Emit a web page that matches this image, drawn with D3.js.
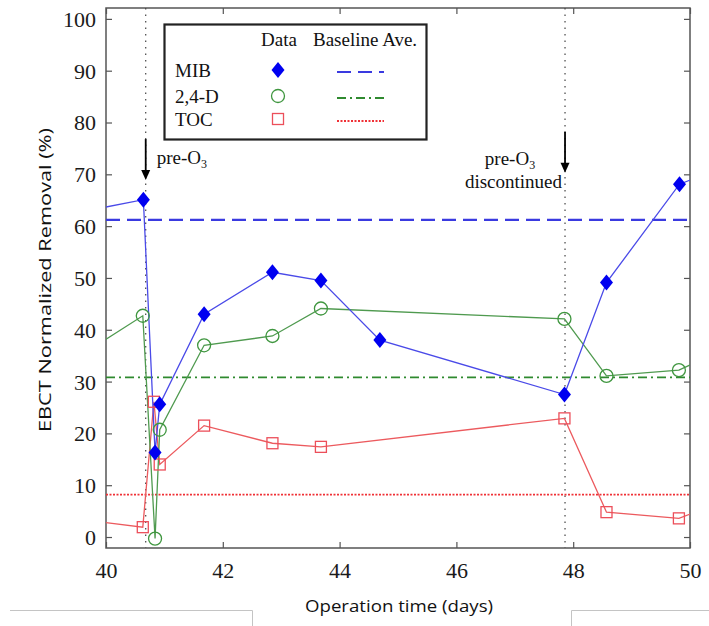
<!DOCTYPE html>
<html>
<head>
<meta charset="utf-8">
<script src="https://cdn.jsdelivr.net/npm/d3@7"></script>
<style>
  html, body { margin: 0; padding: 0; background: #fff; }
  svg { display: block; }
</style>
</head>
<body>
<svg id="chart" width="709" height="626"></svg>
<script>
// ---------- data ----------
const xTicks = [40, 42, 44, 46, 48, 50];
const yTicks = [0, 10, 20, 30, 40, 50, 60, 70, 80, 90, 100];

const mibTime   = [39.5, 40.64, 40.84, 40.92, 41.68, 42.85, 43.68, 44.69, 47.85, 48.57, 49.82, 50.3];
const mibValue  = [62.6, 65.1, 16.3, 25.6, 43.0, 51.1, 49.5, 38.0, 27.5, 49.1, 68.1, 70.2];

const d24Time   = [39.5, 40.63, 40.84, 40.92, 41.68, 42.85, 43.68, 47.85, 48.57, 49.81, 50.3];
const d24Value  = [34.6, 42.7, -0.3, 20.7, 37.0, 38.8, 44.1, 42.1, 31.1, 32.2, 34.8];

const tocTime   = [39.5, 40.63, 40.82, 40.92, 41.68, 42.85, 43.68, 47.85, 48.57, 49.81, 50.3];
const tocValue  = [3.5, 1.9, 26.1, 14.0, 21.5, 18.1, 17.4, 22.9, 4.8, 3.6, 5.7];

const seriesNames = ["MIB", "2,4-D", "TOC"];
const baselineAve = [61.2, 30.8, 8.2];

const eventTimes  = [40.68, 47.86];
const eventLabels = [["pre-O", "3"], ["pre-O", "3", "discontinued"]];

// ---------- layout ----------
const svg = d3.select("#chart");
const L = 106, R = 690, T = 8, B = 548;
const x = d3.scaleLinear().domain([40, 50]).range([L, R]);
const y = d3.scaleLinear().domain([-2.12, 102.1]).range([B, T]);

const colors = {
  mibLine: "#4a4ae8", mibFill: "#0000f0", mibBase: "#3a3ae0",
  d24Line: "#4f9a4f", d24Mark: "#3f963f", d24Base: "#2f8a2f",
  tocLine: "#ec5a5e", tocMark: "#ec4f5a", tocBase: "#f03036"
};

svg.append("defs").append("clipPath").attr("id", "plotclip")
  .append("rect").attr("x", L).attr("y", T).attr("width", R - L).attr("height", B - T);

// stray screenshot borders at bottom
const deco = svg.append("g").attr("stroke", "#c4c4c4").attr("stroke-width", 1).attr("fill", "none");
deco.append("path").attr("d", "M10,610.5 H252.5 V626");
deco.append("path").attr("d", "M709,610.5 H571.5 V626");

// ---------- axes frame ----------
const axisColor = "#555";
const frame = svg.append("g");
frame.append("rect").attr("x", L).attr("y", T).attr("width", R - L).attr("height", B - T)
  .attr("fill", "none").attr("stroke", axisColor).attr("stroke-width", 1.5);

const tickLen = 6;
const xAxisB = d3.axisBottom(x).tickValues(xTicks).tickSizeInner(-tickLen).tickSizeOuter(0).tickPadding(14);
const gxb = svg.append("g").attr("transform", `translate(0,${B})`).call(xAxisB);
const xAxisT = d3.axisTop(x).tickValues(xTicks).tickSizeInner(-tickLen).tickSizeOuter(0).tickFormat("");
const gxt = svg.append("g").attr("transform", `translate(0,${T})`).call(xAxisT);
const yAxisL = d3.axisLeft(y).tickValues(yTicks).tickSizeInner(-tickLen).tickSizeOuter(0).tickPadding(10);
const gyl = svg.append("g").attr("transform", `translate(${L},0)`).call(yAxisL);
const yAxisR = d3.axisRight(y).tickValues(yTicks).tickSizeInner(-tickLen).tickSizeOuter(0).tickFormat("");
const gyr = svg.append("g").attr("transform", `translate(${R},0)`).call(yAxisR);

[gxb, gxt, gyl, gyr].forEach(g => {
  g.select(".domain").remove();
  g.selectAll(".tick line").attr("stroke", axisColor).attr("stroke-width", 1.2);
  g.selectAll(".tick text").attr("fill", "#1a1a1a")
    .style("font-family", "'Liberation Serif', 'Times New Roman', serif")
    .style("font-size", "22px");
});
gyl.selectAll(".tick text").attr("dy", "0.34em");
gxb.selectAll(".tick text").attr("dy", "0.72em");

// axis titles
svg.append("text").attr("x", 399).attr("y", 612).attr("text-anchor", "middle")
  .style("font-family", "'Open Sans', 'Noto Sans', sans-serif").style("font-size", "16px")
  .attr("fill", "#111").attr("textLength", 188).attr("lengthAdjust", "spacingAndGlyphs")
  .text("Operation time (days)");
svg.append("text").attr("transform", "translate(51,280) rotate(-90)").attr("text-anchor", "middle")
  .style("font-family", "'Open Sans', 'Noto Sans', sans-serif").style("font-size", "16px")
  .attr("fill", "#111").attr("textLength", 304).attr("lengthAdjust", "spacingAndGlyphs")
  .text("EBCT Normalized Removal (%)");

// ---------- event lines ----------
const plot = svg.append("g").attr("clip-path", "url(#plotclip)");
plot.selectAll(".event").data(eventTimes).enter().append("line")
  .attr("x1", d => x(d)).attr("x2", d => x(d)).attr("y1", T).attr("y2", B)
  .attr("stroke", "#444").attr("stroke-width", 1.2).attr("stroke-dasharray", "1.5,5");

// ---------- baselines ----------
const baseStyles = [
  { c: colors.mibBase, dash: "14,7", w: 2.2 },
  { c: colors.d24Base, dash: "9,4,2,4", w: 1.8 },
  { c: colors.tocBase, dash: "2,1.5", w: 1.8 }
];
plot.selectAll(".base").data(baselineAve).enter().append("line")
  .attr("x1", L).attr("x2", R).attr("y1", d => y(d)).attr("y2", d => y(d))
  .attr("stroke", (d, i) => baseStyles[i].c)
  .attr("stroke-width", (d, i) => baseStyles[i].w)
  .attr("stroke-dasharray", (d, i) => baseStyles[i].dash);

// ---------- series ----------
const line = d3.line().x(d => x(d[0])).y(d => y(d[1]));
const mib = d3.zip(mibTime, mibValue);
const d24 = d3.zip(d24Time, d24Value);
const toc = d3.zip(tocTime, tocValue);

plot.append("path").datum(toc).attr("d", line).attr("fill", "none")
  .attr("stroke", colors.tocLine).attr("stroke-width", 1.3);
plot.append("path").datum(d24).attr("d", line).attr("fill", "none")
  .attr("stroke", colors.d24Line).attr("stroke-width", 1.3);
plot.append("path").datum(mib).attr("d", line).attr("fill", "none")
  .attr("stroke", colors.mibLine).attr("stroke-width", 1.3);

const diamondPath = "M0,-8 L6.5,0 L0,8 L-6.5,0 Z";
plot.selectAll(".toc").data(toc).enter().append("rect")
  .attr("x", d => x(d[0]) - 5.5).attr("y", d => y(d[1]) - 5.5)
  .attr("width", 11).attr("height", 11)
  .attr("fill", "none").attr("stroke", colors.tocMark).attr("stroke-width", 1.3);
plot.selectAll(".d24").data(d24).enter().append("circle")
  .attr("cx", d => x(d[0])).attr("cy", d => y(d[1])).attr("r", 6.5)
  .attr("fill", "none").attr("stroke", colors.d24Mark).attr("stroke-width", 1.3);
plot.selectAll(".mib").data(mib).enter().append("path")
  .attr("d", diamondPath)
  .attr("transform", d => `translate(${x(d[0])},${y(d[1])})`)
  .attr("fill", colors.mibFill);

// ---------- arrows & annotations ----------
const serif = "'Liberation Serif', 'Times New Roman', serif";
const arrowTop = [76.8, 78.2], arrowTip = [68.9, 70.3];
eventTimes.forEach((t, i) => {
  const ax = x(t);
  svg.append("line").attr("x1", ax).attr("x2", ax)
    .attr("y1", y(arrowTop[i])).attr("y2", y(arrowTip[i]) - 8)
    .attr("stroke", "#000").attr("stroke-width", 1.8);
  svg.append("path")
    .attr("d", `M${ax - 4.5},${y(arrowTip[i]) - 10} L${ax + 4.5},${y(arrowTip[i]) - 10} L${ax},${y(arrowTip[i])} Z`)
    .attr("fill", "#000");
});
function preO3(g, px, py, anchor) {
  const t = g.append("text").attr("x", px).attr("y", py).attr("text-anchor", anchor)
    .style("font-family", serif).style("font-size", "19px").attr("fill", "#111");
  t.append("tspan").text("pre-O");
  t.append("tspan").attr("dy", 4).style("font-size", "12px").text("3");
}
preO3(svg, x(eventTimes[0]) + 11, 164, "start");
preO3(svg, x(eventTimes[1]) - 55, 165, "middle");
svg.append("text").attr("x", x(eventTimes[1]) - 3).attr("y", 188).attr("text-anchor", "end")
  .style("font-family", serif).style("font-size", "19px").attr("fill", "#111")
  .text(eventLabels[1][2]);

// ---------- legend ----------
const lg = svg.append("g");
lg.append("rect").attr("x", 164.5).attr("y", 24.5).attr("width", 262).attr("height", 115)
  .attr("fill", "#fff").attr("stroke", "#222").attr("stroke-width", 2.2);
const lt = (tx, ty, s, anchor) => lg.append("text").attr("x", tx).attr("y", ty)
  .attr("text-anchor", anchor || "start")
  .style("font-family", serif).style("font-size", "19px").attr("fill", "#111").text(s);
lt(279, 46, "Data", "middle");
lt(313, 46, "Baseline Ave.");
const rowY = [70, 96, 119];
seriesNames.forEach((n, i) => lt(175, rowY[i] + 7, n));
lg.append("path").attr("d", diamondPath).attr("transform", `translate(278,${rowY[0]})`).attr("fill", colors.mibFill);
lg.append("circle").attr("cx", 278).attr("cy", rowY[1]).attr("r", 6.5)
  .attr("fill", "none").attr("stroke", colors.d24Mark).attr("stroke-width", 1.3);
lg.append("rect").attr("x", 272.5).attr("y", rowY[2] - 5.5).attr("width", 11).attr("height", 11)
  .attr("fill", "none").attr("stroke", colors.tocMark).attr("stroke-width", 1.3);
baseStyles.forEach((s, i) => {
  lg.append("line").attr("x1", 337).attr("x2", 384).attr("y1", rowY[i] + 2).attr("y2", rowY[i] + 2)
    .attr("stroke", s.c).attr("stroke-width", s.w).attr("stroke-dasharray", s.dash);
});
</script>
</body>
</html>
